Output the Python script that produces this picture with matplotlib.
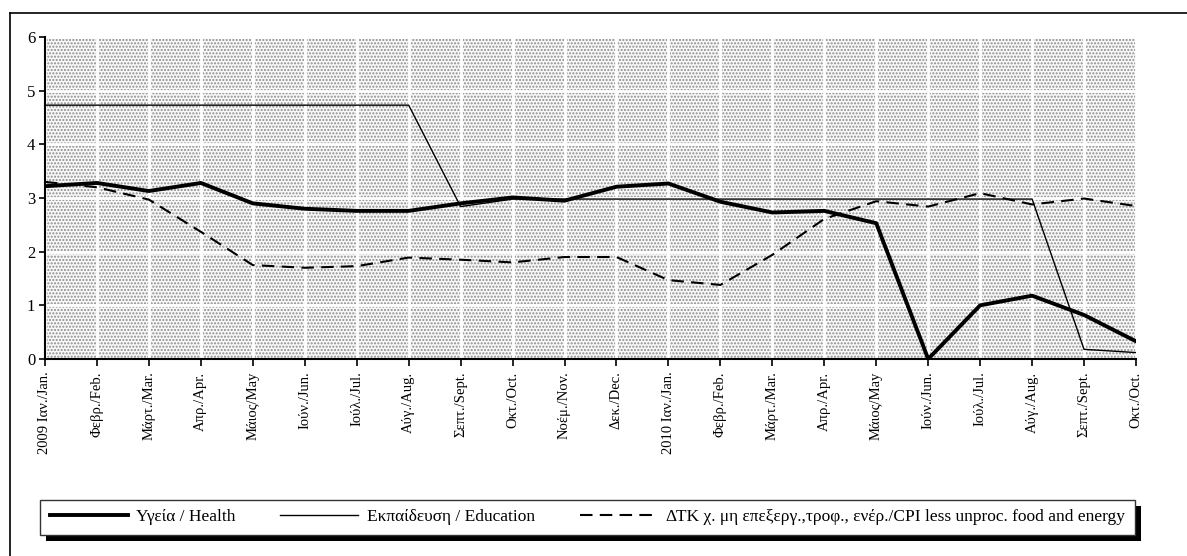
import matplotlib
matplotlib.use("Agg")
import matplotlib.pyplot as plt
from matplotlib.patches import Rectangle
from matplotlib.lines import Line2D

months = [
    "2009 Ιαν./Jan.", "Φεβρ./Feb.", "Μάρτ./Mar.", "Απρ./Apr.", "Μάιος/May",
    "Ιούν./Jun.", "Ιούλ./Jul.", "Αύγ./Aug.", "Σεπτ./Sept.", "Οκτ./Oct.",
    "Νοέμ./Nov.", "Δεκ./Dec.", "2010 Ιαν./Jan.", "Φεβρ./Feb.", "Μάρτ./Mar.",
    "Απρ./Apr.", "Μάιος/May", "Ιούν./Jun.", "Ιούλ./Jul.", "Αύγ./Aug.",
    "Σεπτ./Sept.", "Οκτ./Oct.",
]

health = [3.22, 3.28, 3.13, 3.28, 2.90, 2.80, 2.76, 2.76, 2.90, 3.01, 2.95,
          3.21, 3.27, 2.93, 2.73, 2.76, 2.53, 0.00, 1.00, 1.18, 0.82, 0.33]
education = [4.73, 4.73, 4.73, 4.73, 4.73, 4.73, 4.73, 4.73, 2.84, 2.98, 2.98,
             2.98, 2.98, 2.98, 2.98, 2.98, 2.98, 2.98, 2.98, 2.98, 0.18, 0.12]
cpi = [3.30, 3.20, 2.97, 2.37, 1.75, 1.70, 1.73, 1.89, 1.85, 1.80, 1.90,
       1.90, 1.47, 1.38, 1.94, 2.61, 2.94, 2.84, 3.09, 2.88, 2.99, 2.85]

labels = ["Υγεία / Health", "Εκπαίδευση / Education",
          "ΔΤΚ χ. μη επεξεργ.,τροφ., ενέρ./CPI less unproc. food and energy"]

plt.rcParams["font.family"] = ["Liberation Serif", "DejaVu Serif"]

W, H = 1187, 556
fig = plt.figure(figsize=(W / 100, H / 100), dpi=100)
ax = fig.add_axes([45 / W, 1 - 359 / H, (1136 - 45) / W, (359 - 37) / H])

x = list(range(len(months)))

# dotted background like the original pattern fill
ax.add_patch(Rectangle((0, 0), 1, 1, transform=ax.transAxes, facecolor="#f8f8f8",
                       edgecolor="#8c8c8c", hatch=".....", lw=0, zorder=0.2))
ax.set_axisbelow(True)
ax.grid(True, color="white", lw=2.0)

ax.plot(x, health, color="black", lw=2.8, label=labels[0], zorder=3)
ax.plot(x, education, color="black", lw=1.0, label=labels[1], zorder=3)
ax.plot(x, cpi, color="black", lw=1.5, dashes=(6, 3.5), label=labels[2], zorder=3)

ax.set_xlim(0, len(months) - 1)
ax.set_ylim(0, 6)
ax.set_yticks(range(7))
ax.set_xticks(x)
ax.set_xticklabels(months, rotation=90, fontsize=10.5)
ax.tick_params(axis="y", labelsize=12, length=4, width=1.2, pad=3)
ax.tick_params(axis="x", length=5, width=1.2, pad=4)
for s in ["top", "right"]:
    ax.spines[s].set_visible(False)
for s in ["left", "bottom"]:
    ax.spines[s].set_linewidth(1.5)

leg = fig.legend(loc="lower left", bbox_to_anchor=(40 / W, 1 - 535 / H, (1135 - 40) / W, 40 / H),
                 mode="expand", ncol=3, fontsize=12.5, handlelength=4.5, handletextpad=0.5,
                 columnspacing=1.0, frameon=True, fancybox=False, edgecolor="#333333",
                 framealpha=1, borderpad=0.55, borderaxespad=0)
leg.get_frame().set_linewidth(1.0)

# outer frame
fig.add_artist(Line2D([10 / W, 10 / W], [0, 1 - 13 / H], transform=fig.transFigure,
                      color="black", lw=1.2))
fig.add_artist(Line2D([10 / W, 1], [1 - 13 / H, 1 - 13 / H], transform=fig.transFigure,
                      color="black", lw=1.2))

# legend shadow
fig.canvas.draw()
bb = leg.get_window_extent()
fig.add_artist(Rectangle((bb.x0 + 6, bb.y0 - 6), bb.width, bb.height,
                         transform=None, facecolor="black", edgecolor="none", zorder=1))
leg.set_zorder(2)

fig.savefig("out.png", dpi=100)
